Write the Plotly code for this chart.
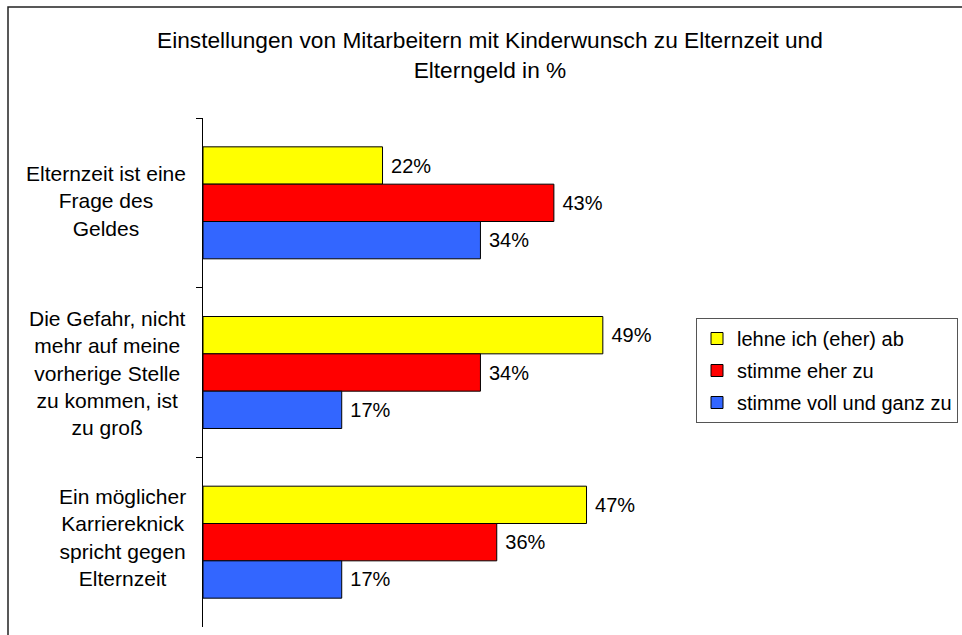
import plotly.graph_objects as go

categories = [
    "Elternzeit ist eine<br>Frage des<br>Geldes",
    "Die Gefahr, nicht<br>mehr auf meine<br>vorherige Stelle<br>zu kommen, ist<br>zu groß",
    "Ein möglicher<br>Karriereknick<br>spricht gegen<br>Elternzeit",
]
series_names = ["lehne ich (eher) ab", "stimme eher zu", "stimme voll und ganz zu"]
series_values = [
    [22, 49, 47],
    [43, 34, 36],
    [34, 17, 17],
]
series_colors = ["#FFFF00", "#FF0000", "#3366FF"]
title_text = "Einstellungen von Mitarbeitern mit Kinderwunsch zu Elternzeit und<br>Elterngeld in %"

FONT = "Liberation Sans, Arial, Helvetica, sans-serif"
W, H = 962, 635
L, R, T, B = 203, 262, 118, 8
pw, ph = W - L - R, H - T - B

def px_x(x):
    return (x - L) / pw

def px_y(y):
    return (H - B - y) / ph

fig = go.Figure()
for name, vals, col in zip(series_names, series_values, series_colors):
    fig.add_trace(go.Bar(
        y=categories, x=vals, name=name, orientation="h", legendgroup=name,
        marker=dict(color=col, line=dict(color="black", width=1)),
        text=[f"\u00a0{v}%" for v in vals], textposition="outside",
        textfont=dict(family=FONT, size=20, color="black"),
        cliponaxis=False, hoverinfo="skip",
    ))

label_shifts = [2, 0, 5]
annotations = [
    dict(text=c, xref="paper", yref="y", x=px_x(188), y=c, xanchor="right",
         yanchor="middle", align="center", showarrow=False, yshift=s,
         font=dict(family=FONT, size=21, color="black"))
    for c, s in zip(categories, label_shifts)
]
annotations.append(dict(
    text=title_text, xref="paper", yref="paper", x=px_x(490), y=px_y(25),
    xanchor="center", yanchor="top", align="center", showarrow=False,
    font=dict(family=FONT, size=22.7, color="black")))

fig.update_layout(
    width=W, height=H,
    margin=dict(l=L, r=R, t=T, b=B, pad=0, autoexpand=False),
    paper_bgcolor="white", plot_bgcolor="white",
    barmode="group", bargap=0.34, bargroupgap=0,
    xaxis=dict(range=[0, pw / 8.16], visible=False, showgrid=False, zeroline=False),
    yaxis=dict(autorange="reversed", showticklabels=False, showline=True,
               linecolor="black", linewidth=1, ticks="outside", ticklen=6,
               tickcolor="black", tickwidth=1, tickson="boundaries",
               showgrid=False, zeroline=False),
    legend=dict(x=px_x(696), y=px_y(370.5), xanchor="left", yanchor="middle",
                traceorder="grouped", tracegroupgap=3,
                bordercolor="#555", borderwidth=1,
                bgcolor="white", font=dict(family=FONT, size=20, color="black")),
    annotations=annotations,
    shapes=[dict(type="rect", xref="paper", yref="paper",
                 x0=px_x(8), x1=px_x(980), y0=px_y(650), y1=px_y(7),
                 line=dict(color="#222", width=1.5), fillcolor="rgba(0,0,0,0)",
                 layer="below")],
    showlegend=True,
)

fig.write_html("out.html", config={"displayModeBar": False},
               post_script="document.body.style.margin='0px';document.body.style.overflow='hidden';")
